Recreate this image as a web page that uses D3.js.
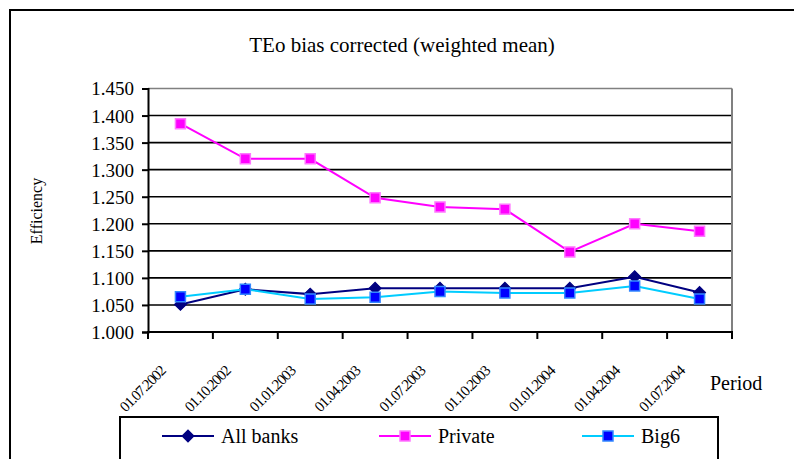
<!DOCTYPE html>
<html><head><meta charset="utf-8">
<script src="https://cdn.jsdelivr.net/npm/d3@7"></script>
<style>
html,body{margin:0;padding:0;background:#fff;}
svg{display:block;}
svg text{font-family:"Liberation Serif","Times New Roman",Times,"DejaVu Serif",serif !important;}
</style></head>
<body>
<svg id="c" width="794" height="459"></svg>
<script>
const periods = ["01.07.2002","01.10.2002","01.01.2003","01.04.2003","01.07.2003","01.10.2003","01.01.2004","01.04.2004","01.07.2004"];
const allBanks = [1.051,1.079,1.070,1.081,1.081,1.081,1.081,1.102,1.073];
const privateBanks = [1.385,1.320,1.320,1.248,1.231,1.227,1.148,1.200,1.186];
const big6 = [1.065,1.079,1.061,1.064,1.075,1.072,1.072,1.085,1.061];
const yTicks = [1.000,1.050,1.100,1.150,1.200,1.250,1.300,1.350,1.400,1.450];
const seriesNames = ["All banks","Private","Big6"];

const svg = d3.select("#c");
const L = 148, R = 732, T = 88.5, B = 332;

const x = d3.scaleBand().domain(periods).range([L, R]).padding(0);
const y = d3.scaleLinear().domain([1.0, 1.45]).range([B, T]);
const cx = d => x(d) + x.bandwidth()/2;

// outer chart border
svg.append("rect").attr("x",10).attr("y",10).attr("width",800).attr("height",470)
  .attr("fill","none").attr("stroke","#000").attr("stroke-width",2);

// title
svg.append("text").attr("x",402).attr("y",52).attr("text-anchor","middle")
  .attr("font-size",21).text("TEo bias corrected (weighted mean)");

// gridlines
svg.append("g").selectAll("line").data(yTicks.slice(1)).join("line")
  .attr("x1",L).attr("x2",R).attr("y1",d=>y(d)).attr("y2",d=>y(d))
  .attr("stroke", d => d===1.45 ? "#808080" : "#000").attr("stroke-width",1.6);
// right border grey
svg.append("line").attr("x1",R).attr("x2",R).attr("y1",T).attr("y2",B)
  .attr("stroke","#808080").attr("stroke-width",2);

// y axis
const yAxis = d3.axisLeft(y).tickValues(yTicks).tickFormat(d3.format(".3f")).tickSize(6).tickPadding(8);
const gy = svg.append("g").attr("transform",`translate(${L},0)`).call(yAxis);
gy.attr("font-family",null);
gy.select(".domain").attr("stroke","#000").attr("stroke-width",2);
gy.selectAll(".tick line").attr("stroke","#000").attr("stroke-width",2);
gy.selectAll(".tick text").attr("font-size",19).attr("fill","#000").attr("dy","0.34em");

// x axis (ticks at band boundaries)
svg.append("line").attr("x1",L-1).attr("x2",R+1).attr("y1",B).attr("y2",B).attr("stroke","#000").attr("stroke-width",2);
const bounds = periods.map(p => x(p)).concat([R]);
svg.append("g").selectAll("line").data(bounds).join("line")
  .attr("x1",d=>d).attr("x2",d=>d).attr("y1",B).attr("y2",B+7).attr("stroke","#000").attr("stroke-width",2);
svg.append("g").selectAll("text").data(periods).join("text")
  .attr("transform", d => `translate(${cx(d)-14},${372}) rotate(-45)`)
  .attr("text-anchor","end").attr("font-size",15).attr("letter-spacing","-1")
  .text(d=>d);

// axis titles
svg.append("text").attr("transform","translate(42,211) rotate(-90)").attr("text-anchor","middle")
  .attr("font-size",16).text("Efficiency");
svg.append("text").attr("x",710).attr("y",390).attr("font-size",20).text("Period");

// series
const series = [
  {name:seriesNames[0], vals:allBanks, line:"#000080", fill:"#000080", stroke:"#000080", sym:"diamond"},
  {name:seriesNames[1], vals:privateBanks, line:"#FF00FF", fill:"#FF00FF", stroke:"#FF77FF", sym:"square"},
  {name:seriesNames[2], vals:big6, line:"#00CCFF", fill:"#0000FF", stroke:"#3388FF", sym:"square"}
];
const lineGen = d3.line().x((v,i)=>cx(periods[i])).y(v=>y(v));
const sqSym = d3.symbol(d3.symbolSquare, 100);
const diaSym = d3.symbol(d3.symbolSquare, 72);
function marker(g, s, px, py){
  if (s.sym==="diamond"){
    g.append("path").attr("d",diaSym()).attr("transform",`translate(${px},${py}) rotate(45)`)
      .attr("fill",s.fill).attr("stroke",s.stroke).attr("stroke-width",1);
  } else {
    g.append("path").attr("d",sqSym()).attr("transform",`translate(${px},${py})`)
      .attr("fill",s.fill).attr("stroke",s.stroke).attr("stroke-width",1.5);
  }
}
const order = [series[1], series[0], series[2]];
order.forEach(s=>{
  const g = svg.append("g");
  g.append("path").attr("d",lineGen(s.vals)).attr("fill","none").attr("stroke",s.line).attr("stroke-width",2);
  s.vals.forEach((v,i)=>marker(g,s,cx(periods[i]),y(v)));
});

// legend
svg.append("rect").attr("x",120).attr("y",417).attr("width",598).attr("height",60)
  .attr("fill","#fff").attr("stroke","#000").attr("stroke-width",2);
const legX = [162, 379, 582];
series.forEach((s,i)=>{
  const g = svg.append("g");
  const ly = 436;
  g.append("line").attr("x1",legX[i]).attr("x2",legX[i]+52).attr("y1",ly).attr("y2",ly)
    .attr("stroke",s.line).attr("stroke-width",2);
  marker(g,s,legX[i]+26,ly);
  g.append("text").attr("x",legX[i]+59).attr("y",ly+7).attr("font-size",20).text(s.name);
});
</script>
</body></html>
